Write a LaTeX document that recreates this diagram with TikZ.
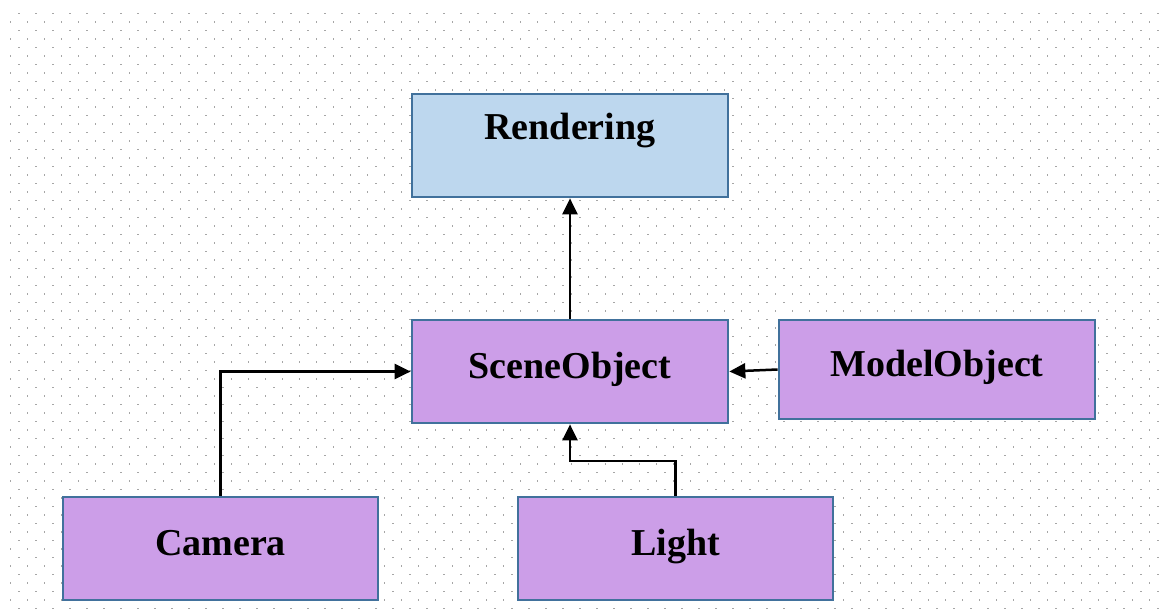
\documentclass[tikz,border=0pt]{standalone}
\usepackage{fontspec}
\setmainfont{Liberation Serif}
\usetikzlibrary{arrows.meta,calc}
\definecolor{BoxLine}{RGB}{65,113,156}
\definecolor{BlueFill}{RGB}{189,215,238}
\definecolor{PurpleFill}{RGB}{204,158,232}
\definecolor{DotClr}{RGB}{166,166,166}

\begin{document}
\begin{tikzpicture}[x=1pt,y=-1pt,
  classbox/.style={draw=BoxLine,line width=2.7pt,fill=PurpleFill,
    minimum width=316pt,minimum height=103pt,inner sep=0pt,
    text height=26pt,text depth=13pt,
    font=\fontsize{38}{40}\selectfont\bfseries},
  link/.style={line width=2.5pt,-{Triangle[length=16pt,width=15pt]}}]
\useasboundingbox (0,0) rectangle (1165,613);

% dotted background
\foreach \j in {0,...,70}{
  \foreach \i in {0,...,67}{
    \fill[DotClr] ({18.3+17*\i-8.5*mod(\j,2)},{12.7+8.5*\j}) rectangle +(1.6,1.6);
  }
}

\node[classbox,fill=BlueFill,text depth=39pt] (Rendering) at (570,145.5) {Rendering};
\node[classbox] (SceneObject) at (570,371.5) {SceneObject};
\node[classbox,minimum height=99pt] (ModelObject) at (937,369.5) {ModelObject};
\node[classbox,minimum width=315pt] (Camera) at (220.5,548.5) {Camera};
\node[classbox,minimum width=315pt] (Light) at (675.5,548.5) {Light};

\coordinate (LightBend) at (570,461);

\draw[link] (SceneObject.north) -- (Rendering.south);
\draw[link] (Camera.north) |- (SceneObject.west);
\draw[link] (ModelObject.west) -- (SceneObject.east);
\draw[link] (Light.north) |- (LightBend) -- (SceneObject.south);

\end{tikzpicture}
\end{document}
